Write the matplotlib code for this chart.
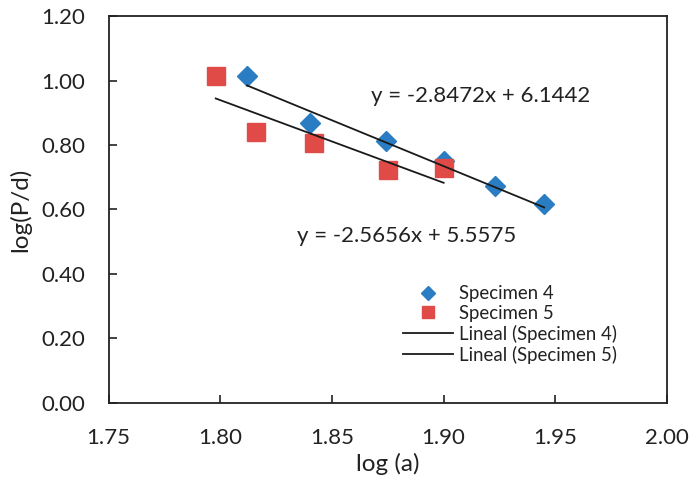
import numpy as np
import matplotlib
matplotlib.use("Agg")
import matplotlib.pyplot as plt

plt.rcParams['font.family'] = ['Lato', 'DejaVu Sans']

# Specimen 4 measurements
s4_log_a = [1.812, 1.840, 1.874, 1.900, 1.923, 1.945]
s4_log_pd = [1.014, 0.868, 0.812, 0.750, 0.673, 0.617]

# Specimen 5 measurements
s5_log_a = [1.798, 1.816, 1.842, 1.875, 1.900]
s5_log_pd = [1.014, 0.840, 0.806, 0.722, 0.729]

# Linear fit coefficients (slope, intercept)
fit4 = (-2.8472, 6.1442)
fit5 = (-2.5656, 5.5575)

x_ticks = [1.75, 1.80, 1.85, 1.90, 1.95, 2.00]
y_ticks = [0.00, 0.20, 0.40, 0.60, 0.80, 1.00, 1.20]

blue = '#2A7DC2'
red = '#E04B48'
ink = '#222222'

fig = plt.figure(figsize=(6.97, 4.90), dpi=100)
ax = fig.add_axes([0.1557, 0.178, 0.8013, 0.789])

ax.plot(s4_log_a, s4_log_pd, linestyle='none', marker='D', markersize=9.8,
        color=blue, label='Specimen 4', zorder=3)
ax.plot(s5_log_a, s5_log_pd, linestyle='none', marker='s', markersize=13,
        color=red, label='Specimen 5', zorder=4)

x4 = np.array([min(s4_log_a), max(s4_log_a)])
x5 = np.array([min(s5_log_a), max(s5_log_a)])
ax.plot(x4, fit4[0] * x4 + fit4[1], color='#1a1a1a', lw=1.3,
        label='Lineal (Specimen 4)', zorder=5)
ax.plot(x5, fit5[0] * x5 + fit5[1], color='#1a1a1a', lw=1.3,
        label='Lineal (Specimen 5)', zorder=5)

ax.text(1.9166, 0.952, f'y = {fit4[0]:.4f}x + {fit4[1]:.4f}',
        ha='center', va='center', fontsize=16, color=ink)
ax.text(1.8835, 0.518, f'y = {fit5[0]:.4f}x + {fit5[1]:.4f}',
        ha='center', va='center', fontsize=16, color=ink)

ax.set_xlim(1.75, 2.00)
ax.set_ylim(0.0, 1.20)
ax.set_xticks(x_ticks)
ax.set_yticks(y_ticks)
ax.set_xticklabels([f'{v:.2f}' for v in x_ticks])
ax.set_yticklabels([f'{v:.2f}' for v in y_ticks])
ax.tick_params(direction='in', length=6, width=1.2, labelsize=16, colors=ink)
ax.tick_params(axis='y', pad=17)
ax.tick_params(axis='x', pad=18)
for sp in ax.spines.values():
    sp.set_linewidth(1.3)
    sp.set_color(ink)

ax.set_xlabel('log (a)', fontsize=17.5, color=ink, labelpad=4)
ax.set_ylabel('log(P/d)', fontsize=17.5, color=ink, labelpad=7)

leg = ax.legend(loc='upper left', bbox_to_anchor=(0.578, 0.418),
                bbox_transform=fig.transFigure, frameon=False,
                fontsize=13.4, handlelength=2.7, handletextpad=0.3,
                labelspacing=0.15, borderpad=0, borderaxespad=0,
                markerscale=0.7)
for t in leg.get_texts():
    t.set_color(ink)

fig.savefig('out.png', dpi=100)
